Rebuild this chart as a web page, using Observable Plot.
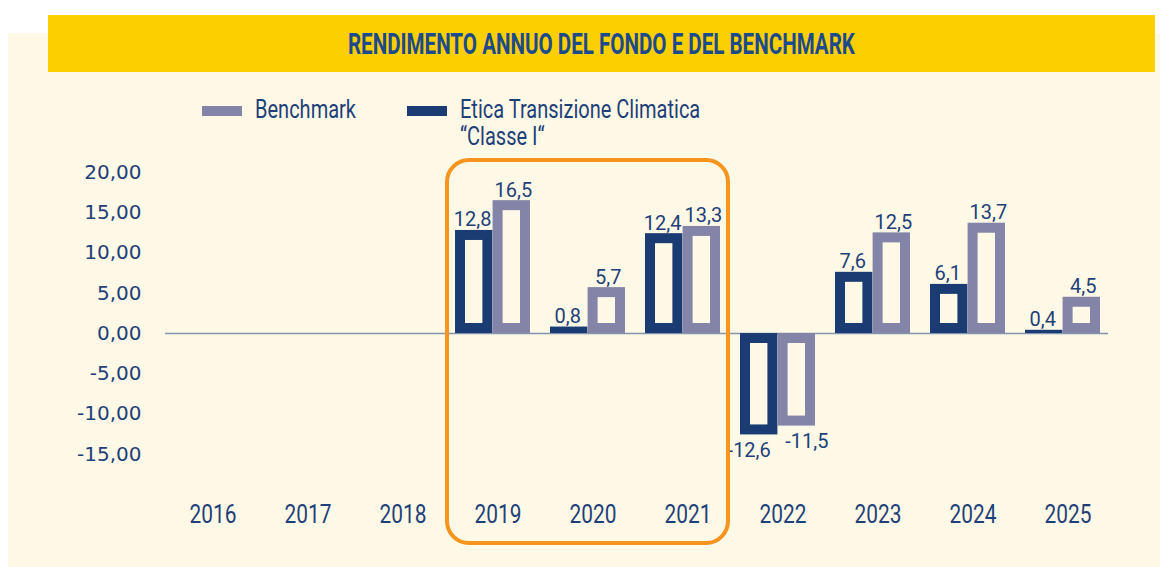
<!DOCTYPE html>
<html>
<head>
<meta charset="utf-8">
<script src="https://cdn.jsdelivr.net/npm/d3@7"></script>
<script src="https://cdn.jsdelivr.net/npm/@observablehq/plot@0.6"></script>
<style>
  html, body { margin: 0; padding: 0; background: #ffffff; }
  #page { position: relative; width: 1168px; height: 567px; overflow: hidden; }
  #bg { position: absolute; left: 8px; top: 33px; width: 1152px; height: 534px; background: #fef8e7; }
  #title { position: absolute; left: 48px; top: 15px; width: 1107px; height: 57px; background: #fcd000;
           display: flex; align-items: center; justify-content: center; }
  #title span { font-family: Roboto, sans-serif; font-weight: bold; font-size: 29px; line-height: 34px;
                color: #1c4a8c; white-space: nowrap; display: inline-block; transform-origin: center center; }
  .sw { position: absolute; width: 40px; height: 10px; }
  .lt { position: absolute; font-family: Roboto, sans-serif; font-size: 25px; line-height: 27px; color: #1f3f78;
        white-space: nowrap; transform-origin: left top; }
  #chart { position: absolute; left: 0; top: 150px; }
</style>
</head>
<body>
<div id="page">
  <div id="bg"></div>
  <div id="title"><span id="titleText">RENDIMENTO ANNUO DEL FONDO E DEL BENCHMARK</span></div>
  <div class="sw" style="left:202px;top:106px;background:#8384a8"></div>
  <div class="lt" id="lg1" style="left:255px;top:96px">Benchmark</div>
  <div class="sw" style="left:407px;top:106px;background:#1b3c73"></div>
  <div class="lt" id="lg2" style="left:460px;top:96px">Etica Transizione Climatica<br>“Classe I“</div>
  <div id="chart"></div>
</div>
<script>
// ---- data ----
const years = ["2016", "2017", "2018", "2019", "2020", "2021", "2022", "2023", "2024", "2025"];
const dataYears = ["2019", "2020", "2021", "2022", "2023", "2024", "2025"];
const fundValues = [12.8, 0.8, 12.4, -12.6, 7.6, 6.1, 0.4];
const benchValues = [16.5, 5.7, 13.3, -11.5, 12.5, 13.7, 4.5];
const yTicks = [-15, -10, -5, 0, 5, 10, 15, 20];
const highlight = ["2019", "2021"];

const fund = dataYears.map((year, i) => ({year, value: fundValues[i]}));
const bench = dataYears.map((year, i) => ({year, value: benchValues[i]}));

// ---- layout ----
const W = 1168, H = 417, mL = 159, mR = 57, mT = 22, mB = 73;
const pIn = 0.21, pOut = 0.105;
const step = (W - mL - mR) / (years.length - pIn + 2 * pOut);
const half = step * (1 - pIn) / 2;
const border = 10;
const NAVY = "#1b3c73", LILAC = "#8384a8", CREAM = "#fef8e7", TXT = "#1f3f78";
const FONT = "Roboto, sans-serif";
const fmt1 = d => d.toFixed(1).replace(".", ",");
const fmt2 = d => d.toFixed(2).replace(".", ",");

const chart = Plot.plot({
  width: W, height: H,
  marginLeft: mL, marginRight: mR, marginTop: mT, marginBottom: mB,
  style: {background: "transparent", fontFamily: FONT, fontSize: "25px", color: TXT, overflow: "visible"},
  x: {domain: years, paddingInner: pIn, paddingOuter: pOut, tickSize: 0, tickPadding: 11, label: null},
  y: {domain: [-20, 20], ticks: yTicks, tickFormat: fmt2, tickSize: 0, tickPadding: 18, label: null},
  marks: [
    Plot.ruleY([0], {stroke: "#8595ad", strokeWidth: 1.6, insetLeft: 6, insetRight: 3}),
    Plot.barY(fund, {x: "year", y: "value", fill: NAVY, insetRight: half}),
    Plot.barY(fund, {x: "year", y: "value", fill: CREAM, insetRight: half + border, insetLeft: border, insetTop: border, insetBottom: border}),
    Plot.barY(bench, {x: "year", y: "value", fill: LILAC, insetLeft: half}),
    Plot.barY(bench, {x: "year", y: "value", fill: CREAM, insetLeft: half + border, insetRight: border, insetTop: border, insetBottom: border}),
    Plot.text(fund, {filter: d => d.value >= 0, x: "year", y: "value", text: d => fmt1(d.value), dx: -half / 2 - 1.5, dy: -4, lineAnchor: "bottom", fill: TXT, fontSize: 20}),
    Plot.text(bench, {filter: d => d.value >= 0, x: "year", y: "value", text: d => fmt1(d.value), dx: half / 2 + 1.5, dy: -4, lineAnchor: "bottom", fill: TXT, fontSize: 20}),
    Plot.text(fund, {filter: d => d.value < 0, x: "year", y: "value", text: d => fmt1(d.value), dx: -half / 2 - 10, dy: 8, lineAnchor: "top", fill: TXT, fontSize: 20}),
    Plot.text(bench, {filter: d => d.value < 0, x: "year", y: "value", text: d => fmt1(d.value), dx: half / 2 + 10, dy: 8, lineAnchor: "top", fill: TXT, fontSize: 20})
  ]
});

document.getElementById("chart").appendChild(chart);

// y-axis labels use a regular-width face
d3.select(chart).selectAll('g[aria-label^="y-axis"]').attr("font-family", "'DejaVu Sans', Verdana, sans-serif").attr("font-size", 20)
  .selectAll("text").style("font-family", "'DejaVu Sans', Verdana, sans-serif").style("font-size", "20px");

// condensed look: horizontally squeeze x-axis tick labels around their anchor
function squeeze(el, k, shift) {
  const x = +(el.getAttribute("x") || 0);
  const t = el.getAttribute("transform") || "";
  el.setAttribute("transform", `${t} translate(${x + shift},0) scale(${k},1) translate(${-x},0)`);
}
const xTexts = d3.select(chart).selectAll('g[aria-label^="x-axis"] text').nodes();
if (xTexts.length) {
  const k = 47 / xTexts[0].getComputedTextLength();
  xTexts.forEach(el => squeeze(el, k, 5));
}

// HTML texts squeezed to the reference widths
const tt = document.getElementById("titleText");
tt.style.transform = `scaleX(${507 / tt.getBoundingClientRect().width})`;
const l1 = document.getElementById("lg1");
const kl = 101 / l1.getBoundingClientRect().width;
l1.style.transform = `scaleX(${kl})`;
document.getElementById("lg2").style.transform = `scaleX(${kl})`;

// highlight box around 2019-2021, positioned from the x scale
const xs = chart.scale("x");
const gap = xs.step - xs.bandwidth;
const bx0 = xs.apply(highlight[0]) - gap / 2 + 2;
const bx1 = xs.apply(highlight[1]) + xs.bandwidth + gap / 2 - 2;
d3.select(chart).append("rect")
  .attr("x", bx0).attr("y", mT - 12)
  .attr("width", bx1 - bx0).attr("height", H - mB + 49 - (mT - 12))
  .attr("rx", 22).attr("ry", 22)
  .attr("fill", "none").attr("stroke", "#f7941d").attr("stroke-width", 4);
</script>
</body>
</html>
